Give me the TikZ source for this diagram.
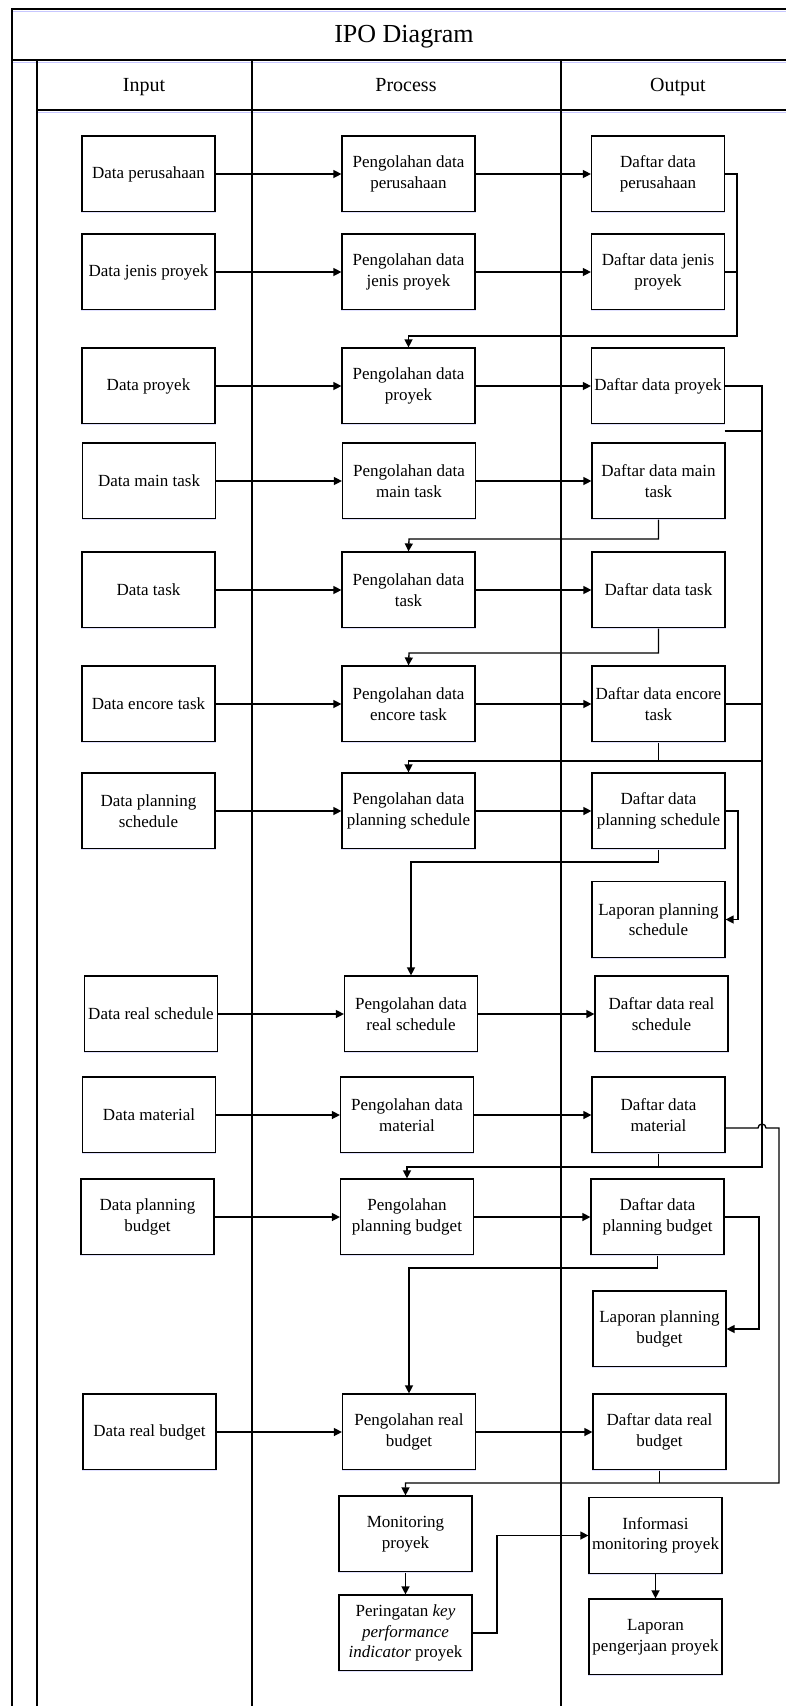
\documentclass[tikz,border=0pt]{standalone}
\usepackage{fontspec}
\setmainfont{Liberation Serif}
\usetikzlibrary{arrows.meta}
\begin{document}
\begin{tikzpicture}[x=1pt,y=-1pt,
  box/.style={draw, line width=1.2pt, minimum width=133pt, minimum height=76pt,
    align=center, inner sep=1pt, font=\fontsize{17}{20.5}\selectfont},
  frameline/.style={line width=1.6pt},
  shade/.style={line width=1pt, draw=blue!22},
  boxshade/.style={line width=1pt, draw=blue!12},
  conn/.style={line width=1.3pt},
  arr/.style={conn, -{Triangle[length=8pt,width=8pt]}},
  head/.style={font=\fontsize{20}{22}\selectfont, anchor=base},
]
\useasboundingbox (0,0) rectangle (786,1706);

% frame
\draw[shade] (12,11.8) -- (786,11.8);
\draw[shade] (12,62.6) -- (786,62.6);
\draw[shade] (37,112.8) -- (786,112.8);
\draw[frameline] (786,9) -- (11.7,9) -- (11.7,1706);
\draw[frameline] (11.7,60) -- (786,60);
\draw[frameline] (36.7,60) -- (36.7,1706);
\draw[frameline] (36.7,110) -- (786,110);
\draw[line width=1.3pt] (252,60) -- (252,1706);
\draw[line width=1.3pt] (561,60) -- (561,1706);

\node[font=\fontsize{26}{28}\selectfont, anchor=base] (title) at (404,42.7) {IPO Diagram};
\node[head] (hin) at (144,91) {Input};
\node[head] (hpr) at (406,91) {Process};
\node[head] (hout) at (678,91) {Output};

% row 1
\node[box] (i1) at (148.5,174) {Data perusahaan};
\node[box] (p1) at (408.5,174) {Pengolahan data\\perusahaan};
\node[box] (o1) at (658,174) {Daftar data\\perusahaan};
% row 2
\node[box] (i2) at (148.5,272) {Data jenis proyek};
\node[box] (p2) at (408.5,272) {Pengolahan data\\jenis proyek};
\node[box] (o2) at (658,272) {Daftar data jenis\\proyek};
% row 3
\node[box] (i3) at (148.5,386) {Data proyek};
\node[box] (p3) at (408.5,386) {Pengolahan data\\proyek};
\node[box] (o3) at (658,386) {Daftar data proyek};
% row 4
\node[box] (i4) at (149,481) {Data main task};
\node[box] (p4) at (409,481) {Pengolahan data\\main task};
\node[box] (o4) at (658.5,481) {Daftar data main\\task};
% row 5
\node[box] (i5) at (148.5,590) {Data task};
\node[box] (p5) at (408.5,590) {Pengolahan data\\task};
\node[box] (o5) at (658.5,590) {Daftar data task};
% row 6
\node[box] (i6) at (148.5,704) {Data encore task};
\node[box] (p6) at (408.5,704) {Pengolahan data\\encore task};
\node[box] (o6) at (658.5,704) {Daftar data encore\\task};
% row 7
\node[box] (i7) at (148.5,811) {Data planning\\schedule};
\node[box] (p7) at (408.5,811) {Pengolahan data\\planning schedule};
\node[box] (o7) at (658.5,811) {Daftar data\\planning schedule};
\node[box] (lps) at (658.5,919.5) {Laporan planning\\schedule};
% row 8
\node[box] (i8) at (151,1014) {Data real schedule};
\node[box] (p8) at (411,1014) {Pengolahan data\\real schedule};
\node[box] (o8) at (661.5,1014) {Daftar data real\\schedule};
% row 9
\node[box] (i9) at (149,1115) {Data material};
\node[box] (p9) at (407,1115) {Pengolahan data\\material};
\node[box] (o9) at (658.5,1115) {Daftar data\\material};
% row 10
\node[box] (i10) at (147.5,1217) {Data planning\\budget};
\node[box] (p10) at (407,1217) {Pengolahan\\planning budget};
\node[box] (o10) at (657.5,1217) {Daftar data\\planning budget};
\node[box] (lpb) at (659.5,1329) {Laporan planning\\budget};
% row 11
\node[box] (i11) at (149.5,1432) {Data real budget};
\node[box] (p11) at (409,1432) {Pengolahan real\\budget};
\node[box] (o11) at (659.5,1432) {Daftar data real\\budget};
% bottom
\node[box] (mon) at (405.5,1534) {Monitoring\\proyek};
\node[box] (per) at (405.5,1633) {Peringatan \textit{key}\\\textit{performance}\\\textit{indicator} proyek};
\node[box] (inf) at (655.5,1535.5) {Informasi\\monitoring proyek};
\node[box] (lap) at (655.5,1637) {Laporan\\pengerjaan proyek};

% faint shadows under boxes
\foreach \n in {i1,p1,o1,i2,p2,o2,i3,p3,o3,i4,p4,o4,i5,p5,o5,i6,p6,o6,i7,p7,o7,lps,
  i8,p8,o8,i9,p9,o9,i10,p10,o10,lpb,i11,p11,o11,mon,per,inf,lap} {
  \draw[boxshade, yshift=-2.2pt] (\n.south west) -- (\n.south east);
}

% horizontal flows
\foreach \k in {1,...,11} {
  \draw[arr] (i\k.east) -- (p\k.west);
  \draw[arr] (p\k.east) -- (o\k.west);
}

% bend coordinates
\coordinate (b1) at (737,336);
\coordinate (b3) at (762,1167);
\coordinate (s3) at (724.5,431);
\coordinate (b4) at (409,539);
\coordinate (b5) at (409,653);
\coordinate (b6) at (762,761);
\coordinate (b7) at (738,919.5);
\coordinate (b8) at (411,862);
\coordinate (m1) at (725,1128);
\coordinate (h1) at (758,1128);
\coordinate (h2) at (766,1128);
\coordinate (b9) at (779,1483);
\coordinate (b10) at (759,1329);
\coordinate (b11) at (409,1268);
\coordinate (b12) at (497,1535.5);

% feedback connectors
\draw[arr] (o1.east) -| (b1) -| (p3.north);
\draw[conn] (o2.east) -- (o2.east -| b1);
\draw[arr] (o3.east) -| (b3) -| (p10.north);
\draw[conn] (s3) -- (s3 -| b3);
\draw[arr] (o4.south) |- (b4) -- (p5.north);
\draw[arr] (o5.south) |- (b5) -- (p6.north);
\draw[conn] (o6.east) -- (o6.east -| b3);
\draw[conn] (o6.south) -- (o6.south |- b6);
\draw[arr] (b6) -| (p7.north);
\draw[arr] (o7.east) -| (b7) -- (lps.east);
\draw[arr] (o7.south) |- (b8) -- (p8.north);
\draw[conn] (o9.south) -- (o9.south |- b3);
\draw[arr] (m1) -- (h1) arc (180:360:4) -- (h2 -| b9) -- (b9) -| (mon.north);
\draw[arr] (o10.east) -| (b10) -- (lpb.east);
\draw[arr] (o10.south) |- (b11) -- (p11.north);
\draw[conn] (o11.south) -- (o11.south |- b9);
\draw[arr] (mon.south) -- (per.north);
\draw[arr] (per.east) -| (b12) -- (inf.west);
\draw[arr] (inf.south) -- (lap.north);
\end{tikzpicture}
\end{document}
